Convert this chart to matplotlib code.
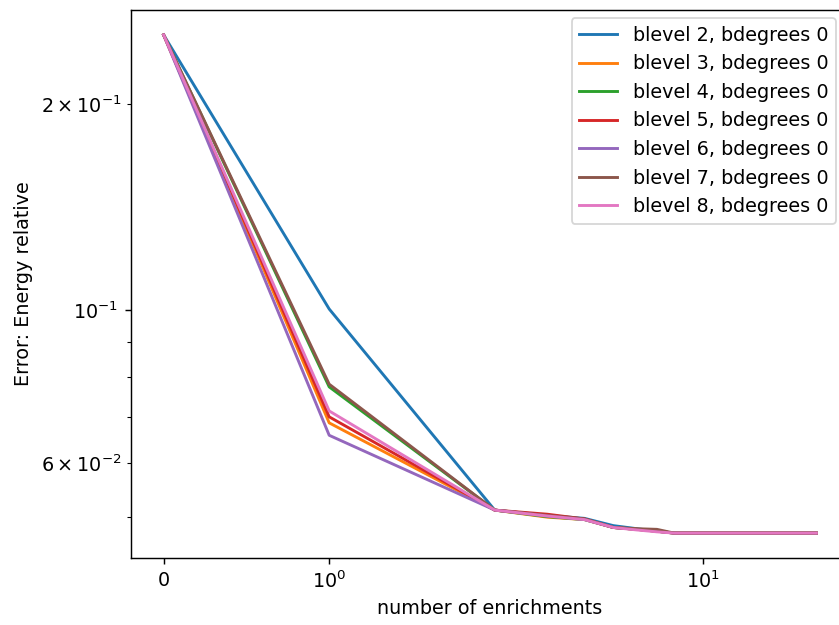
import matplotlib
matplotlib.use("Agg")
import matplotlib.pyplot as plt

# number of enrichments
enrichments = list(range(25))

tail = [0.0474] * 16  # x = 9 .. 24

err_b2 = [0.252, 0.1005, 0.0512, 0.0503, 0.0498, 0.0486, 0.0481, 0.0477, 0.0474] + tail
err_b3 = [0.252, 0.0686, 0.0512, 0.0500, 0.0496, 0.0483, 0.0480, 0.0477, 0.0474] + tail
err_b4 = [0.252, 0.0774, 0.0512, 0.0501, 0.0496, 0.0483, 0.0480, 0.0477, 0.0474] + tail
err_b5 = [0.252, 0.0700, 0.0512, 0.0505, 0.0497, 0.0483, 0.0480, 0.0477, 0.0474] + tail
err_b6 = [0.252, 0.0658, 0.0512, 0.0502, 0.0496, 0.0483, 0.0480, 0.0477, 0.0474] + tail
err_b7 = [0.252, 0.0781, 0.0512, 0.0503, 0.0497, 0.0483, 0.0481, 0.0480, 0.0474] + tail
err_b8 = [0.252, 0.0714, 0.0512, 0.0502, 0.0496, 0.0483, 0.0479, 0.0476, 0.0474] + tail

blevels = [2, 3, 4, 5, 6, 7, 8]
errors = [err_b2, err_b3, err_b4, err_b5, err_b6, err_b7, err_b8]

plt.rcParams["font.size"] = 10.6
plt.rcParams["lines.linewidth"] = 1.6

W, H, DPI = 839, 625, 130
fig = plt.figure(figsize=(W / DPI, H / DPI), dpi=DPI)
ax = fig.add_axes([131 / W, (H - 558) / H, (849 - 131) / W, (558 - 10) / H])

for lvl, err in zip(blevels, errors):
    ax.plot(enrichments, err, label=f"blevel {lvl}, bdegrees 0")

ax.set_xscale("symlog")
ax.set_yscale("log")
ax.set_xlabel("number of enrichments")
ax.set_ylabel("Error: Energy relative")
ax.legend(loc="upper right", bbox_to_anchor=(0.982, 0.9854), borderaxespad=0)

fig.savefig("out.png", dpi=DPI)
